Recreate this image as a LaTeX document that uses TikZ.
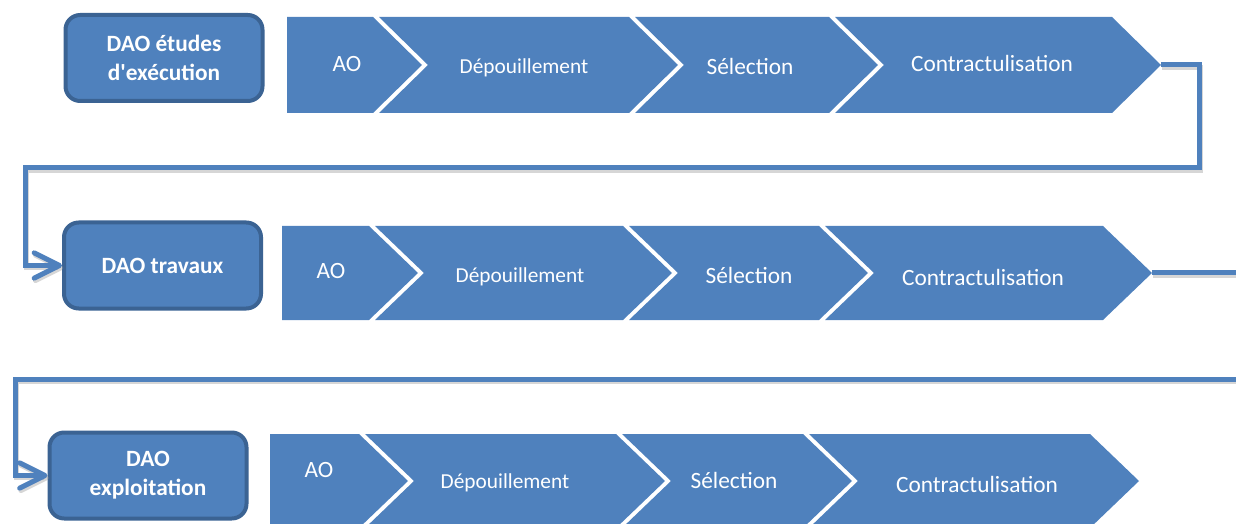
\documentclass[tikz,border=0pt]{standalone}
\usepackage{fontspec}
\setmainfont{Carlito}
\usetikzlibrary{arrows.meta}
\definecolor{flowblue}{HTML}{4F81BD}
\definecolor{flowedge}{HTML}{3B6393}

% first phase of a row: flat left edge, pointed right end
% #1 left, #2 shoulder, #3 top, #4 bottom, #5 point depth
\newcommand\firstphase[5]{%
  \fill[phase] (#1,#3) -- (#2,#3) -- ({#2+#5},{(#3+#4)/2}) -- (#2,#4) -- (#1,#4) -- cycle;}
% following phases: notched left end, pointed right end
\newcommand\nextphase[5]{%
  \fill[phase] (#1,#3) -- (#2,#3) -- ({#2+#5},{(#3+#4)/2}) -- (#2,#4) -- (#1,#4)
    -- ({#1+#5},{(#3+#4)/2}) -- cycle;}

\begin{document}
\begin{tikzpicture}[x=0.75pt,y=-0.75pt,
  phase/.style={fill=flowblue},
  phaselabel/.style={text=white,anchor=base,inner sep=0pt,font=\fontsize{17.5}{21}\selectfont},
  phaselabelsm/.style={phaselabel,font=\fontsize{16}{19}\selectfont},
  dao/.style={draw=flowedge,line width=3pt,fill=flowblue,rounded corners=11pt,
    minimum width=147.75pt,minimum height=64.5pt,inner sep=0pt,align=center,
    text=white,font=\bfseries\fontsize{17.5}{21.75}\selectfont},
  link/.style={draw=flowblue,line width=3.75pt},
  linkshade/.style={draw=black!40,opacity=0.4,line width=3.75pt,
    transform canvas={xshift=1pt,yshift=-1.8pt}},
  linktip/.style={-{Straight Barb[length=19pt,width=19pt,round]}},
]
\useasboundingbox (0,0) rectangle (1236,524);
\clip (0,0) rectangle (1236,524);

% row 1
\firstphase{287}{373}{17}{113}{49}
\nextphase{379}{629}{17}{113}{49}
\nextphase{635}{829}{17}{113}{49}
\nextphase{835}{1112}{17}{113}{49}
\coordinate (r1end) at (1161,65);
\node[phaselabel] (r1a) at (347,72) {AO};
\node[phaselabelsm] (r1b) at (524,74) {Dépouillement};
\node[phaselabel] (r1c) at (750,75) {Sélection};
\node[phaselabel] (r1d) at (992,72) {Contractulisation};

% row 2
\firstphase{282}{369}{226}{320}{49}
\nextphase{375}{623}{226}{320}{49}
\nextphase{629}{819}{226}{320}{49}
\nextphase{825}{1103}{226}{320}{49}
\coordinate (r2end) at (1152,273);
\node[phaselabel] (r2a) at (331,278) {AO};
\node[phaselabelsm] (r2b) at (520,282) {Dépouillement};
\node[phaselabel] (r2c) at (749,283) {Sélection};
\node[phaselabel] (r2d) at (983,286) {Contractulisation};

% row 3
\firstphase{270}{359}{434}{528}{49}
\nextphase{365}{616}{434}{528}{49}
\nextphase{622}{803}{434}{528}{49}
\nextphase{809}{1090}{434}{528}{49}
\node[phaselabel] (r3a) at (319,477) {AO};
\node[phaselabelsm] (r3b) at (505,488) {Dépouillement};
\node[phaselabel] (r3c) at (734,488) {Sélection};
\node[phaselabel] (r3d) at (977,492) {Contractulisation};

% stage boxes
\node[dao] (b1) at (164,58) {DAO études\\d\textquotesingle exécution};
\node[dao] (b2) at (162.5,265.5) {DAO travaux};
\node[dao] (b3) at (148,475.5) {DAO\\exploitation};

% return path from row 1 to row 2
\coordinate (k1) at (1199,65);
\coordinate (k2) at (1199,168);
\coordinate (k3) at (25,168);
\draw[linkshade,linktip] (r1end) -- (k1) -- (k2) -- (k3) |- (b2.west);
\draw[link,linktip] (r1end) -- (k1) -- (k2) -- (k3) |- (b2.west);

% return path from row 2 to row 3
\coordinate (k4) at (1252,273);
\coordinate (k5) at (1252,379);
\coordinate (k6) at (15,379);
\draw[linkshade,linktip] (r2end) -- (k4) -- (k5) -- (k6) |- (b3.west);
\draw[link,linktip] (r2end) -- (k4) -- (k5) -- (k6) |- (b3.west);
\end{tikzpicture}
\end{document}
